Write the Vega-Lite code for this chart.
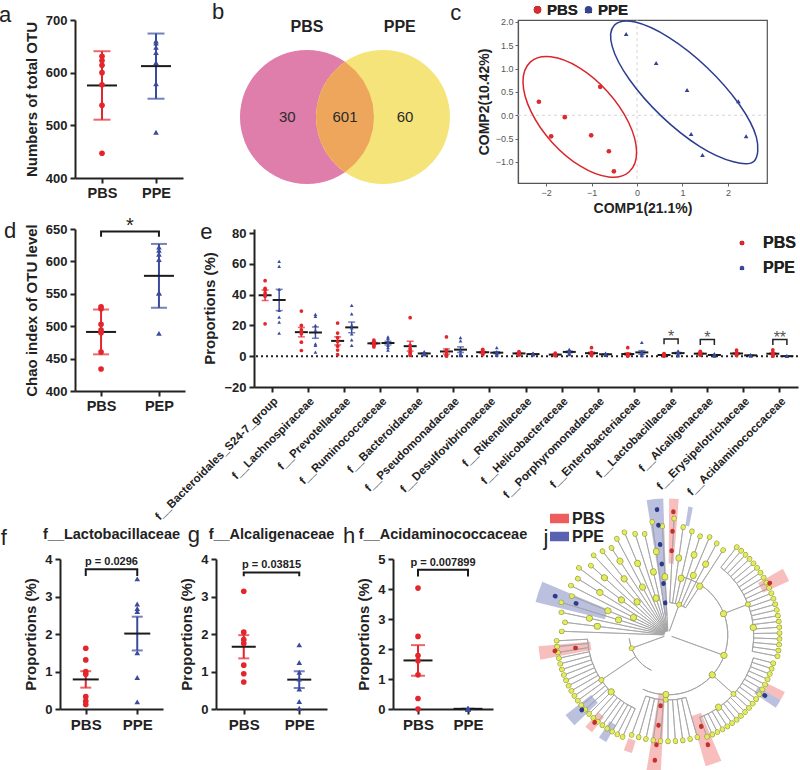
{
"$schema":"https://vega.github.io/schema/vega-lite/v6.json",
"autosize":{"type":"none"},
"padding":{"left":60,"top":20,"right":740,"bottom":750},
"background":"white",
"config":{
 "font":"Liberation Sans",
 "view":{"stroke":null},
 "axis":{"grid":false,"labelOverlap":false,"domainColor":"#222","domainWidth":2,"tickColor":"#222","tickWidth":2,"tickSize":5,"labelFont":"Liberation Sans","labelFontWeight":"bold","labelFontSize":13,"labelColor":"#222","titleFont":"Liberation Sans","titleFontWeight":"bold","titleFontSize":15,"titleColor":"#222","labelPadding":3},
 "legend":{"labelFont":"Liberation Sans","labelFontWeight":"bold","labelColor":"#222","titleFont":"Liberation Sans"},
 "text":{"font":"Liberation Sans"}
},
"datasets":{
 "otu":[{"g":"PBS","v":631},{"g":"PBS","v":623},{"g":"PBS","v":614},{"g":"PBS","v":600},{"g":"PBS","v":577},{"g":"PBS","v":538},{"g":"PBS","v":447},{"g":"PPE","v":660},{"g":"PPE","v":656},{"g":"PPE","v":648},{"g":"PPE","v":638},{"g":"PPE","v":619},{"g":"PPE","v":579},{"g":"PPE","v":487}],
 "chao":[{"g":"PBS","v":530},{"g":"PBS","v":527},{"g":"PBS","v":503},{"g":"PBS","v":494},{"g":"PBS","v":490},{"g":"PBS","v":460},{"g":"PBS","v":434},{"g":"PPE","v":622},{"g":"PPE","v":617},{"g":"PPE","v":611},{"g":"PPE","v":603},{"g":"PPE","v":551},{"g":"PPE","v":551},{"g":"PPE","v":489}],
 "pca":[{"g":"PBS","x":-2.16,"y":0.29},{"g":"PBS","x":-0.81,"y":0.61},{"g":"PBS","x":-1.59,"y":-0.04},{"g":"PBS","x":-1.89,"y":-0.45},{"g":"PBS","x":-1.01,"y":-0.43},{"g":"PBS","x":-0.62,"y":-0.77},{"g":"PBS","x":-0.51,"y":-1.2},{"g":"PPE","x":-0.24,"y":1.74},{"g":"PPE","x":0.42,"y":1.12},{"g":"PPE","x":1.1,"y":0.54},{"g":"PPE","x":2.23,"y":0.3},{"g":"PPE","x":1.19,"y":-0.4},{"g":"PPE","x":2.4,"y":-0.45},{"g":"PPE","x":1.44,"y":-0.85}],
 "ell":[{"g":"PBS","i":0,"x":-0.171,"y":-1.209},{"g":"PBS","i":1,"x":-0.01,"y":-0.781},{"g":"PBS","i":2,"x":-0.185,"y":-0.154},{"g":"PBS","i":3,"x":-0.648,"y":0.505},{"g":"PBS","i":4,"x":-1.275,"y":1.02},{"g":"PBS","i":5,"x":-1.897,"y":1.251},{"g":"PBS","i":6,"x":-2.349,"y":1.138},{"g":"PBS","i":7,"x":-2.51,"y":0.71},{"g":"PBS","i":8,"x":-2.335,"y":0.083},{"g":"PBS","i":9,"x":-1.873,"y":-0.576},{"g":"PBS","i":10,"x":-1.245,"y":-1.091},{"g":"PBS","i":11,"x":-0.623,"y":-1.323},
  {"g":"PPE","i":0,"x":2.581,"y":-0.977},{"g":"PPE","i":1,"x":2.627,"y":-0.474},{"g":"PPE","i":2,"x":2.248,"y":0.235},{"g":"PPE","i":3,"x":1.545,"y":1.018},{"g":"PPE","i":4,"x":0.707,"y":1.662},{"g":"PPE","i":5,"x":-0.041,"y":1.995},{"g":"PPE","i":6,"x":-0.5,"y":1.927},{"g":"PPE","i":7,"x":-0.547,"y":1.476},{"g":"PPE","i":8,"x":-0.168,"y":0.765},{"g":"PPE","i":9,"x":0.535,"y":-0.018},{"g":"PPE","i":10,"x":1.374,"y":-0.664},{"g":"PPE","i":11,"x":2.122,"y":-0.995}],
 "venn":[{"s":"PBS","x":-0.5,"y":0},{"s":"PPE","x":0.5,"y":0},{"s":"both","x":0,"y":0}],
 "venntext":[{"x":-0.5,"y":1.18,"t":"PBS","k":"head"},{"x":0.72,"y":1.18,"t":"PPE","k":"head"},{"x":-0.76,"y":0,"t":"30","k":"n"},{"x":0,"y":0,"t":"601","k":"n"},{"x":0.79,"y":0,"t":"60","k":"n"},{"x":-1.75,"y":1.29,"t":"b","k":"letter"}],
 "fam":[
  {"f":"f__Bacteroidales_S24-7_group","g":"PBS","v":49},{"f":"f__Bacteroidales_S24-7_group","g":"PBS","v":44},{"f":"f__Bacteroidales_S24-7_group","g":"PBS","v":43},{"f":"f__Bacteroidales_S24-7_group","g":"PBS","v":41},{"f":"f__Bacteroidales_S24-7_group","g":"PBS","v":40},{"f":"f__Bacteroidales_S24-7_group","g":"PBS","v":39},{"f":"f__Bacteroidales_S24-7_group","g":"PBS","v":21},
  {"f":"f__Bacteroidales_S24-7_group","g":"PPE","v":61.6},{"f":"f__Bacteroidales_S24-7_group","g":"PPE","v":58.4},{"f":"f__Bacteroidales_S24-7_group","g":"PPE","v":43.4},{"f":"f__Bacteroidales_S24-7_group","g":"PPE","v":29.7},{"f":"f__Bacteroidales_S24-7_group","g":"PPE","v":25.4},{"f":"f__Bacteroidales_S24-7_group","g":"PPE","v":22.1},{"f":"f__Bacteroidales_S24-7_group","g":"PPE","v":15},
  {"f":"f__Lachnospiraceae","g":"PBS","v":29.3},{"f":"f__Lachnospiraceae","g":"PBS","v":20},{"f":"f__Lachnospiraceae","g":"PBS","v":17.1},{"f":"f__Lachnospiraceae","g":"PBS","v":15.6},{"f":"f__Lachnospiraceae","g":"PBS","v":14.5},{"f":"f__Lachnospiraceae","g":"PBS","v":9.1},{"f":"f__Lachnospiraceae","g":"PBS","v":3.7},
  {"f":"f__Lachnospiraceae","g":"PPE","v":27.1},{"f":"f__Lachnospiraceae","g":"PPE","v":25.8},{"f":"f__Lachnospiraceae","g":"PPE","v":20},{"f":"f__Lachnospiraceae","g":"PPE","v":16.7},{"f":"f__Lachnospiraceae","g":"PPE","v":8},{"f":"f__Lachnospiraceae","g":"PPE","v":7},{"f":"f__Lachnospiraceae","g":"PPE","v":2.6},
  {"f":"f__Prevotellaceae","g":"PBS","v":21.5},{"f":"f__Prevotellaceae","g":"PBS","v":15},{"f":"f__Prevotellaceae","g":"PBS","v":12},{"f":"f__Prevotellaceae","g":"PBS","v":9.5},{"f":"f__Prevotellaceae","g":"PBS","v":6.5},{"f":"f__Prevotellaceae","g":"PBS","v":4},{"f":"f__Prevotellaceae","g":"PBS","v":1},
  {"f":"f__Prevotellaceae","g":"PPE","v":33},{"f":"f__Prevotellaceae","g":"PPE","v":27.5},{"f":"f__Prevotellaceae","g":"PPE","v":20},{"f":"f__Prevotellaceae","g":"PPE","v":18.4},{"f":"f__Prevotellaceae","g":"PPE","v":14.5},{"f":"f__Prevotellaceae","g":"PPE","v":10.6},{"f":"f__Prevotellaceae","g":"PPE","v":7},
  {"f":"f__Ruminococcaceae","g":"PBS","v":10.5},{"f":"f__Ruminococcaceae","g":"PBS","v":9.5},{"f":"f__Ruminococcaceae","g":"PBS","v":9},{"f":"f__Ruminococcaceae","g":"PBS","v":8.5},{"f":"f__Ruminococcaceae","g":"PBS","v":8},{"f":"f__Ruminococcaceae","g":"PBS","v":7},{"f":"f__Ruminococcaceae","g":"PBS","v":6},
  {"f":"f__Ruminococcaceae","g":"PPE","v":12.5},{"f":"f__Ruminococcaceae","g":"PPE","v":11.5},{"f":"f__Ruminococcaceae","g":"PPE","v":10},{"f":"f__Ruminococcaceae","g":"PPE","v":9},{"f":"f__Ruminococcaceae","g":"PPE","v":7},{"f":"f__Ruminococcaceae","g":"PPE","v":5.5},{"f":"f__Ruminococcaceae","g":"PPE","v":4},
  {"f":"f__Bacteroidaceae","g":"PBS","v":25},{"f":"f__Bacteroidaceae","g":"PBS","v":7},{"f":"f__Bacteroidaceae","g":"PBS","v":5},{"f":"f__Bacteroidaceae","g":"PBS","v":4},{"f":"f__Bacteroidaceae","g":"PBS","v":2.5},{"f":"f__Bacteroidaceae","g":"PBS","v":1.5},{"f":"f__Bacteroidaceae","g":"PBS","v":0.5},
  {"f":"f__Bacteroidaceae","g":"PPE","v":3},{"f":"f__Bacteroidaceae","g":"PPE","v":2.5},{"f":"f__Bacteroidaceae","g":"PPE","v":2},{"f":"f__Bacteroidaceae","g":"PPE","v":1.5},{"f":"f__Bacteroidaceae","g":"PPE","v":1.5},{"f":"f__Bacteroidaceae","g":"PPE","v":1},{"f":"f__Bacteroidaceae","g":"PPE","v":1},
  {"f":"f__Pseudomonadaceae","g":"PBS","v":12.5},{"f":"f__Pseudomonadaceae","g":"PBS","v":4},{"f":"f__Pseudomonadaceae","g":"PBS","v":3},{"f":"f__Pseudomonadaceae","g":"PBS","v":1},{"f":"f__Pseudomonadaceae","g":"PBS","v":0.5},{"f":"f__Pseudomonadaceae","g":"PBS","v":0.3},{"f":"f__Pseudomonadaceae","g":"PBS","v":0.2},
  {"f":"f__Pseudomonadaceae","g":"PPE","v":12},{"f":"f__Pseudomonadaceae","g":"PPE","v":10},{"f":"f__Pseudomonadaceae","g":"PPE","v":4},{"f":"f__Pseudomonadaceae","g":"PPE","v":2},{"f":"f__Pseudomonadaceae","g":"PPE","v":1},{"f":"f__Pseudomonadaceae","g":"PPE","v":0.5},{"f":"f__Pseudomonadaceae","g":"PPE","v":0.3},
  {"f":"f__Desulfovibrionaceae","g":"PBS","v":4.5},{"f":"f__Desulfovibrionaceae","g":"PBS","v":3.5},{"f":"f__Desulfovibrionaceae","g":"PBS","v":3},{"f":"f__Desulfovibrionaceae","g":"PBS","v":2.5},{"f":"f__Desulfovibrionaceae","g":"PBS","v":2},{"f":"f__Desulfovibrionaceae","g":"PBS","v":1.5},{"f":"f__Desulfovibrionaceae","g":"PBS","v":1},
  {"f":"f__Desulfovibrionaceae","g":"PPE","v":5.5},{"f":"f__Desulfovibrionaceae","g":"PPE","v":3},{"f":"f__Desulfovibrionaceae","g":"PPE","v":2.5},{"f":"f__Desulfovibrionaceae","g":"PPE","v":2},{"f":"f__Desulfovibrionaceae","g":"PPE","v":1.5},{"f":"f__Desulfovibrionaceae","g":"PPE","v":1},{"f":"f__Desulfovibrionaceae","g":"PPE","v":0.5},
  {"f":"f__Rikenellaceae","g":"PBS","v":3},{"f":"f__Rikenellaceae","g":"PBS","v":2.5},{"f":"f__Rikenellaceae","g":"PBS","v":2},{"f":"f__Rikenellaceae","g":"PBS","v":1.8},{"f":"f__Rikenellaceae","g":"PBS","v":1.5},{"f":"f__Rikenellaceae","g":"PBS","v":1},{"f":"f__Rikenellaceae","g":"PBS","v":0.8},
  {"f":"f__Rikenellaceae","g":"PPE","v":2},{"f":"f__Rikenellaceae","g":"PPE","v":1.8},{"f":"f__Rikenellaceae","g":"PPE","v":1.5},{"f":"f__Rikenellaceae","g":"PPE","v":1.3},{"f":"f__Rikenellaceae","g":"PPE","v":1.2},{"f":"f__Rikenellaceae","g":"PPE","v":1},{"f":"f__Rikenellaceae","g":"PPE","v":0.8},
  {"f":"f__Helicobacteraceae","g":"PBS","v":2},{"f":"f__Helicobacteraceae","g":"PBS","v":1.5},{"f":"f__Helicobacteraceae","g":"PBS","v":1.2},{"f":"f__Helicobacteraceae","g":"PBS","v":1},{"f":"f__Helicobacteraceae","g":"PBS","v":0.8},{"f":"f__Helicobacteraceae","g":"PBS","v":0.5},{"f":"f__Helicobacteraceae","g":"PBS","v":0.3},
  {"f":"f__Helicobacteraceae","g":"PPE","v":4.5},{"f":"f__Helicobacteraceae","g":"PPE","v":4},{"f":"f__Helicobacteraceae","g":"PPE","v":3.5},{"f":"f__Helicobacteraceae","g":"PPE","v":3},{"f":"f__Helicobacteraceae","g":"PPE","v":2},{"f":"f__Helicobacteraceae","g":"PPE","v":1.5},{"f":"f__Helicobacteraceae","g":"PPE","v":1},
  {"f":"f__Porphyromonadaceae","g":"PBS","v":5.5},{"f":"f__Porphyromonadaceae","g":"PBS","v":2.5},{"f":"f__Porphyromonadaceae","g":"PBS","v":2},{"f":"f__Porphyromonadaceae","g":"PBS","v":1.5},{"f":"f__Porphyromonadaceae","g":"PBS","v":1},{"f":"f__Porphyromonadaceae","g":"PBS","v":0.8},{"f":"f__Porphyromonadaceae","g":"PBS","v":0.5},
  {"f":"f__Porphyromonadaceae","g":"PPE","v":2},{"f":"f__Porphyromonadaceae","g":"PPE","v":1.8},{"f":"f__Porphyromonadaceae","g":"PPE","v":1.5},{"f":"f__Porphyromonadaceae","g":"PPE","v":1.2},{"f":"f__Porphyromonadaceae","g":"PPE","v":1},{"f":"f__Porphyromonadaceae","g":"PPE","v":0.8},{"f":"f__Porphyromonadaceae","g":"PPE","v":0.5},
  {"f":"f__Enterobacteriaceae","g":"PBS","v":5.5},{"f":"f__Enterobacteriaceae","g":"PBS","v":1.5},{"f":"f__Enterobacteriaceae","g":"PBS","v":1},{"f":"f__Enterobacteriaceae","g":"PBS","v":0.8},{"f":"f__Enterobacteriaceae","g":"PBS","v":0.5},{"f":"f__Enterobacteriaceae","g":"PBS","v":0.3},{"f":"f__Enterobacteriaceae","g":"PBS","v":0.2},
  {"f":"f__Enterobacteriaceae","g":"PPE","v":9},{"f":"f__Enterobacteriaceae","g":"PPE","v":3},{"f":"f__Enterobacteriaceae","g":"PPE","v":2},{"f":"f__Enterobacteriaceae","g":"PPE","v":1.5},{"f":"f__Enterobacteriaceae","g":"PPE","v":1},{"f":"f__Enterobacteriaceae","g":"PPE","v":0.5},{"f":"f__Enterobacteriaceae","g":"PPE","v":0.3},
  {"f":"f__Lactobacillaceae","g":"PBS","v":1.62},{"f":"f__Lactobacillaceae","g":"PBS","v":1.31},{"f":"f__Lactobacillaceae","g":"PBS","v":1.0},{"f":"f__Lactobacillaceae","g":"PBS","v":0.93},{"f":"f__Lactobacillaceae","g":"PBS","v":0.33},{"f":"f__Lactobacillaceae","g":"PBS","v":0.21},{"f":"f__Lactobacillaceae","g":"PBS","v":0.12},
  {"f":"f__Lactobacillaceae","g":"PPE","v":3.47},{"f":"f__Lactobacillaceae","g":"PPE","v":2.8},{"f":"f__Lactobacillaceae","g":"PPE","v":2.68},{"f":"f__Lactobacillaceae","g":"PPE","v":2.6},{"f":"f__Lactobacillaceae","g":"PPE","v":1.5},{"f":"f__Lactobacillaceae","g":"PPE","v":0.84},{"f":"f__Lactobacillaceae","g":"PPE","v":0.19},
  {"f":"f__Alcaligenaceae","g":"PBS","v":3.14},{"f":"f__Alcaligenaceae","g":"PBS","v":2.05},{"f":"f__Alcaligenaceae","g":"PBS","v":1.85},{"f":"f__Alcaligenaceae","g":"PBS","v":1.75},{"f":"f__Alcaligenaceae","g":"PBS","v":1.17},{"f":"f__Alcaligenaceae","g":"PBS","v":0.94},{"f":"f__Alcaligenaceae","g":"PBS","v":0.72},
  {"f":"f__Alcaligenaceae","g":"PPE","v":1.71},{"f":"f__Alcaligenaceae","g":"PPE","v":1.24},{"f":"f__Alcaligenaceae","g":"PPE","v":0.98},{"f":"f__Alcaligenaceae","g":"PPE","v":0.8},{"f":"f__Alcaligenaceae","g":"PPE","v":0.53},{"f":"f__Alcaligenaceae","g":"PPE","v":0.2},{"f":"f__Alcaligenaceae","g":"PPE","v":0.02},
  {"f":"f__Erysipelotrichaceae","g":"PBS","v":4},{"f":"f__Erysipelotrichaceae","g":"PBS","v":2.5},{"f":"f__Erysipelotrichaceae","g":"PBS","v":2},{"f":"f__Erysipelotrichaceae","g":"PBS","v":1.5},{"f":"f__Erysipelotrichaceae","g":"PBS","v":1},{"f":"f__Erysipelotrichaceae","g":"PBS","v":0.8},{"f":"f__Erysipelotrichaceae","g":"PBS","v":0.5},
  {"f":"f__Erysipelotrichaceae","g":"PPE","v":1},{"f":"f__Erysipelotrichaceae","g":"PPE","v":0.8},{"f":"f__Erysipelotrichaceae","g":"PPE","v":0.6},{"f":"f__Erysipelotrichaceae","g":"PPE","v":0.5},{"f":"f__Erysipelotrichaceae","g":"PPE","v":0.4},{"f":"f__Erysipelotrichaceae","g":"PPE","v":0.3},{"f":"f__Erysipelotrichaceae","g":"PPE","v":0.2},
  {"f":"f__Acidaminococcaceae","g":"PBS","v":4.03},{"f":"f__Acidaminococcaceae","g":"PBS","v":2.42},{"f":"f__Acidaminococcaceae","g":"PBS","v":1.78},{"f":"f__Acidaminococcaceae","g":"PBS","v":1.61},{"f":"f__Acidaminococcaceae","g":"PBS","v":1.14},{"f":"f__Acidaminococcaceae","g":"PBS","v":0.35},{"f":"f__Acidaminococcaceae","g":"PBS","v":0},
  {"f":"f__Acidaminococcaceae","g":"PPE","v":0.02},{"f":"f__Acidaminococcaceae","g":"PPE","v":0.01},{"f":"f__Acidaminococcaceae","g":"PPE","v":0.01},{"f":"f__Acidaminococcaceae","g":"PPE","v":0},{"f":"f__Acidaminococcaceae","g":"PPE","v":0},{"f":"f__Acidaminococcaceae","g":"PPE","v":0},{"f":"f__Acidaminococcaceae","g":"PPE","v":0}
 ],
 "spk":[
  {"a":272,"r0":0.03,"r1":0.82},{"a":277,"r0":0.03,"r1":0.8},{"a":282,"r0":0.03,"r1":0.84},{"a":287,"r0":0.03,"r1":0.86},{"a":292,"r0":0.03,"r1":0.8},{"a":297,"r0":0.03,"r1":0.84},{"a":302,"r0":0.03,"r1":0.82},{"a":307,"r0":0.03,"r1":0.86},{"a":312,"r0":0.03,"r1":0.8},{"a":317,"r0":0.03,"r1":0.84},{"a":322,"r0":0.03,"r1":0.82},{"a":327,"r0":0.03,"r1":0.8},{"a":332,"r0":0.03,"r1":0.84},{"a":337,"r0":0.03,"r1":0.86},{"a":342,"r0":0.03,"r1":0.82},{"a":347,"r0":0.03,"r1":0.8},{"a":352,"r0":0.03,"r1":0.88},{"a":357,"r0":0.03,"r1":0.84},
  {"a":3,"r0":0.25,"r1":0.9},{"a":8,"r0":0.25,"r1":0.84},{"a":13,"r0":0.25,"r1":0.82},{"a":18,"r0":0.25,"r1":0.8},{"a":23,"r0":0.25,"r1":0.82},{"a":28,"r0":0.25,"r1":0.8},{"a":33,"r0":0.25,"r1":0.78},
  {"a":38,"r0":0.66,"r1":0.86},{"a":41,"r0":0.66,"r1":0.86},{"a":44,"r0":0.66,"r1":0.86},{"a":47,"r0":0.66,"r1":0.86},{"a":50,"r0":0.66,"r1":0.86},{"a":53,"r0":0.66,"r1":0.86},{"a":56,"r0":0.66,"r1":0.86},{"a":59,"r0":0.66,"r1":0.86},{"a":62,"r0":0.66,"r1":0.86},{"a":65,"r0":0.66,"r1":0.86},{"a":68,"r0":0.66,"r1":0.86},{"a":71,"r0":0.66,"r1":0.86},{"a":74,"r0":0.66,"r1":0.86},{"a":77,"r0":0.66,"r1":0.86},{"a":80,"r0":0.66,"r1":0.86},{"a":83,"r0":0.66,"r1":0.86},{"a":86,"r0":0.66,"r1":0.86},{"a":89,"r0":0.66,"r1":0.86},{"a":92,"r0":0.66,"r1":0.86},{"a":95,"r0":0.66,"r1":0.86},{"a":98,"r0":0.66,"r1":0.86},{"a":101,"r0":0.66,"r1":0.86},
  {"a":105,"r0":0.68,"r1":0.84},{"a":108,"r0":0.68,"r1":0.84},{"a":111,"r0":0.68,"r1":0.84},{"a":114,"r0":0.68,"r1":0.84},{"a":117,"r0":0.68,"r1":0.84},{"a":120,"r0":0.68,"r1":0.84},{"a":123,"r0":0.68,"r1":0.84},{"a":126,"r0":0.68,"r1":0.84},{"a":129,"r0":0.68,"r1":0.84},{"a":132,"r0":0.68,"r1":0.84},{"a":135,"r0":0.68,"r1":0.84},{"a":138,"r0":0.68,"r1":0.84},{"a":141,"r0":0.68,"r1":0.84},{"a":144,"r0":0.68,"r1":0.84},{"a":147,"r0":0.68,"r1":0.84},{"a":150,"r0":0.68,"r1":0.84},{"a":153,"r0":0.68,"r1":0.84},{"a":156,"r0":0.68,"r1":0.84},{"a":159,"r0":0.68,"r1":0.84},
  {"a":164,"r0":0.5,"r1":0.82},{"a":168,"r0":0.5,"r1":0.82},{"a":172,"r0":0.5,"r1":0.82},{"a":176,"r0":0.5,"r1":0.82},{"a":180,"r0":0.5,"r1":0.82},{"a":184,"r0":0.5,"r1":0.82},{"a":188,"r0":0.5,"r1":0.82},{"a":192,"r0":0.5,"r1":0.82},{"a":196,"r0":0.5,"r1":0.82},{"a":200,"r0":0.5,"r1":0.82},
  {"a":204,"r0":0.62,"r1":0.86},{"a":207,"r0":0.62,"r1":0.86},{"a":210,"r0":0.62,"r1":0.86},{"a":213,"r0":0.62,"r1":0.86},{"a":216,"r0":0.62,"r1":0.86},{"a":219,"r0":0.62,"r1":0.86},{"a":222,"r0":0.62,"r1":0.86},{"a":225,"r0":0.62,"r1":0.86},{"a":228,"r0":0.62,"r1":0.86},{"a":231,"r0":0.62,"r1":0.86},{"a":234,"r0":0.62,"r1":0.86},{"a":237,"r0":0.62,"r1":0.86},{"a":240,"r0":0.62,"r1":0.86},{"a":243,"r0":0.62,"r1":0.86},{"a":246,"r0":0.62,"r1":0.86},{"a":249,"r0":0.62,"r1":0.86},{"a":252,"r0":0.62,"r1":0.86},{"a":255,"r0":0.62,"r1":0.86},{"a":258,"r0":0.62,"r1":0.86},{"a":261,"r0":0.62,"r1":0.86},{"a":264,"r0":0.62,"r1":0.86},{"a":267,"r0":0.62,"r1":0.86},
  {"a":69,"r0":0.46,"r1":0.66},{"a":132,"r0":0.46,"r1":0.68},{"a":182,"r0":0.46,"r1":0.5},{"a":236,"r0":0.3,"r1":0.62},{"a":110,"r0":0.03,"r1":0.46},{"a":250,"r0":0.03,"r1":0.3},{"a":20,"r0":0.03,"r1":0.25}
 ],
 "nd":[{"a":277,"r":0.55},{"a":282,"r":0.62},{"a":287,"r":0.4},{"a":292,"r":0.5},{"a":297,"r":0.3},{"a":302,"r":0.62},{"a":307,"r":0.45},{"a":312,"r":0.66},{"a":317,"r":0.35},{"a":322,"r":0.55},{"a":327,"r":0.68},{"a":332,"r":0.42},{"a":337,"r":0.6},{"a":342,"r":0.3},{"a":347,"r":0.5},{"a":352,"r":0.65},{"a":357,"r":0.45},{"a":8,"r":0.6},{"a":13,"r":0.45},{"a":18,"r":0.65},{"a":23,"r":0.5},{"a":28,"r":0.62},{"a":33,"r":0.45},{"a":69,"r":0.46},{"a":110,"r":0.46},{"a":132,"r":0.46},{"a":182,"r":0.46},{"a":85,"r":0.66},{"a":145,"r":0.68},{"a":225,"r":0.62}],
 "cn":[{"a":355,"r":0.25,"g":"PPE"},{"a":355,"r":0.4,"g":"PPE"},{"a":355,"r":0.55,"g":"PPE"},{"a":355,"r":0.7,"g":"PPE"},{"a":355,"r":0.85,"g":"PPE"},{"a":355,"r":0.97,"g":"PPE"},{"a":2.5,"r":0.65,"g":"PBS"},{"a":2.5,"r":0.8,"g":"PBS"},{"a":2.5,"r":0.95,"g":"PBS"},{"a":289,"r":0.75,"g":"PPE"},{"a":289,"r":0.92,"g":"PPE"},{"a":262,"r":0.72,"g":"PBS"},{"a":262,"r":0.88,"g":"PBS"},{"a":229,"r":0.88,"g":"PPE"},{"a":186,"r":0.55,"g":"PBS"},{"a":186,"r":0.7,"g":"PBS"},{"a":186,"r":0.85,"g":"PBS"},{"a":186,"r":0.97,"g":"PBS"},{"a":160,"r":0.75,"g":"PBS"},{"a":160,"r":0.9,"g":"PBS"},{"a":63,"r":0.88,"g":"PBS"},{"a":122,"r":0.88,"g":"PPE"},{"a":220,"r":0.88,"g":"PBS"}],
 "wd":[{"a0":351,"a1":358,"r0":0.15,"r1":1.05,"g":"PPE"},{"a0":0.5,"a1":4.5,"r0":0.55,"r1":1.05,"g":"PBS"},{"a0":9,"a1":11,"r0":0.85,"r1":1.0,"g":"PPE"},{"a0":60,"a1":66,"r0":0.8,"r1":1.02,"g":"PBS"},{"a0":284,"a1":293,"r0":0.5,"r1":1.05,"g":"PPE"},{"a0":259,"a1":265,"r0":0.6,"r1":1.0,"g":"PBS"},{"a0":226,"a1":232,"r0":0.75,"r1":1.0,"g":"PPE"},{"a0":218,"a1":222,"r0":0.8,"r1":0.95,"g":"PBS"},{"a0":210,"a1":214,"r0":0.8,"r1":0.95,"g":"PPE"},{"a0":197,"a1":201,"r0":0.85,"r1":0.95,"g":"PBS"},{"a0":183,"a1":189,"r0":0.45,"r1":1.15,"g":"PBS"},{"a0":157,"a1":164,"r0":0.65,"r1":1.05,"g":"PBS"},{"a0":120,"a1":124,"r0":0.8,"r1":1.0,"g":"PPE"},{"a0":116,"a1":120,"r0":0.85,"r1":1.0,"g":"PBS"}],
 "arcs":[{"a0":15,"a1":205,"r":0.46},{"a0":205,"a1":265,"r":0.3},{"a0":38,"a1":101,"r":0.66},{"a0":105,"a1":159,"r":0.68},{"a0":164,"a1":200,"r":0.5},{"a0":204,"a1":267,"r":0.62},{"a0":3,"a1":33,"r":0.25}]
},
"bounds":"flush","spacing":0,
"resolve":{"scale":{"color":"independent","shape":"independent"},"legend":{"color":"independent","shape":"independent"}},
"vconcat":[
 {"hconcat":[
  {"width":15,"height":1,"data":{"values":[{}]},"mark":{"type":"text","text":""}},
  {"width":108,"height":158,
   "data":{"name":"otu"},
   "layer":[
    {"mark":{"type":"errorbar","extent":"stdev","ticks":{"size":17},"thickness":2},
     "encoding":{"x":{"field":"g","type":"nominal","title":null,"scale":{"type":"point","domain":["PBS","mid","PPE"],"padding":1.42},"axis":{"title":null,"values":["PBS","PPE"],"labelAngle":0,"labelFontSize":14.5}},
      "y":{"field":"v","type":"quantitative","title":"Numbers of total OTU","scale":{"domain":[400,700],"nice":false,"zero":false},"axis":{"values":[400,500,600,700],"tickCount":20,"format":"d","titlePadding":6,"labelOverlap":false}},
      "color":{"field":"g","type":"nominal","scale":{"domain":["PBS","PPE"],"range":["#e3262c","#3a4b9d"]},"legend":null}}},
    {"mark":{"type":"tick","thickness":2,"size":30,"color":"#1a1a1a"},
     "encoding":{"x":{"field":"g","type":"nominal","title":null},"y":{"aggregate":"mean","field":"v","type":"quantitative","title":"Numbers of total OTU"}}},
    {"mark":{"type":"point","filled":true,"size":32,"opacity":1},
     "encoding":{"x":{"field":"g","type":"nominal","title":null},"y":{"field":"v","type":"quantitative","title":"Numbers of total OTU"},
      "color":{"field":"g","type":"nominal","legend":null},
      "shape":{"field":"g","type":"nominal","scale":{"domain":["PBS","PPE"],"range":["circle","triangle-up"]},"legend":null}}},
    {"data":{"values":[{"g":"PBS","y":700,"t":"a"}]},"mark":{"type":"text","fontSize":22,"align":"left","baseline":"alphabetic","dx":-103,"dy":2,"color":"#222"},
     "encoding":{"x":{"field":"g","type":"nominal","title":null},"y":{"field":"y","type":"quantitative","title":"Numbers of total OTU"},"text":{"field":"t"}}}
   ]},
  {"width":14,"height":1,"data":{"values":[{}]},"mark":{"type":"text","text":""}},
  {"width":307,"height":163,
   "layer":[
    {"data":{"name":"venn"},"transform":[{"filter":"datum.s == 'PBS'"}],"mark":{"type":"point","shape":"circle","filled":true,"size":17956,"color":"#df7dab","opacity":1},
     "encoding":{"x":{"field":"x","type":"quantitative","scale":{"domain":[-1.947,2.092],"nice":false,"zero":false},"axis":null},"y":{"field":"y","type":"quantitative","scale":{"domain":[-0.868,1.276],"nice":false,"zero":false},"axis":null}}},
    {"data":{"name":"venn"},"transform":[{"filter":"datum.s == 'PPE'"}],"mark":{"type":"point","shape":"circle","filled":true,"size":17956,"color":"#f5e47a","opacity":1},
     "encoding":{"x":{"field":"x","type":"quantitative"},"y":{"field":"y","type":"quantitative"}}},
    {"data":{"name":"venn"},"transform":[{"filter":"datum.s == 'both'"}],"mark":{"type":"point","shape":"M0,-0.824L0.152,-0.695L0.272,-0.545L0.36,-0.375L0.415,-0.191L0.433,0L0.415,0.191L0.36,0.375L0.272,0.545L0.152,0.695L0,0.824L-0.152,0.695L-0.272,0.545L-0.36,0.375L-0.415,0.191L-0.433,0L-0.415,-0.191L-0.36,-0.375L-0.272,-0.545L-0.152,-0.695Z","filled":true,"size":17956,"color":"#eea65d","opacity":1},
     "encoding":{"x":{"field":"x","type":"quantitative"},"y":{"field":"y","type":"quantitative"}}},
    {"data":{"name":"venntext"},"transform":[{"filter":"datum.k == 'head'"}],"mark":{"type":"text","fontSize":16,"fontWeight":"bold","color":"#222"},
     "encoding":{"x":{"field":"x","type":"quantitative"},"y":{"field":"y","type":"quantitative"},"text":{"field":"t"}}},
    {"data":{"name":"venntext"},"transform":[{"filter":"datum.k == 'n'"}],"mark":{"type":"text","fontSize":15,"color":"#2a2a2a"},
     "encoding":{"x":{"field":"x","type":"quantitative"},"y":{"field":"y","type":"quantitative"},"text":{"field":"t"}}},
    {"data":{"name":"venntext"},"transform":[{"filter":"datum.k == 'letter'"}],"mark":{"type":"text","fontSize":22,"align":"left","baseline":"alphabetic","color":"#222"},
     "encoding":{"x":{"field":"x","type":"quantitative"},"y":{"field":"y","type":"quantitative"},"text":{"field":"t"}}}
   ]},
  {"width":14,"height":1,"data":{"values":[{}]},"mark":{"type":"text","text":""}},
  {"width":249,"height":163,
   "view":{"stroke":"#555","strokeWidth":1.2},
   "resolve":{"scale":{"color":"independent"},"legend":{"color":"independent"}},
   "layer":[
    {"data":{"values":[{"z":0}]},"mark":{"type":"rule","strokeDash":[3,3],"color":"#d5d5d5","strokeWidth":1},
     "encoding":{"x":{"field":"z","type":"quantitative","title":"COMP1(21.1%)","scale":{"domain":[-2.62,2.86],"nice":false,"zero":false},
       "axis":{"values":[-2,-1,0,1,2],"tickCount":20,"format":"d","labelOverlap":false,"labelFontSize":9,"labelFontWeight":"normal","labelColor":"#555","tickColor":"#666","tickSize":3,"tickWidth":1,"domainColor":"#555","domainWidth":1.2,"titleFontSize":14,"labelPadding":2,"titlePadding":4}}}},
    {"data":{"values":[{"z":0}]},"mark":{"type":"rule","strokeDash":[3,3],"color":"#d5d5d5","strokeWidth":1},
     "encoding":{"y":{"field":"z","type":"quantitative","title":"COMP2(10.42%)","scale":{"domain":[-1.45,2.04],"nice":false,"zero":false},
       "axis":{"values":[-1,-0.5,0,0.5,1,1.5,2],"tickCount":20,"format":".1f","labelOverlap":false,"labelFontSize":9,"labelFontWeight":"normal","labelColor":"#555","tickColor":"#666","tickSize":3,"tickWidth":1,"domainColor":"#555","domainWidth":1.2,"titleFontSize":14,"labelPadding":2,"titlePadding":4}}}},
    {"data":{"name":"ell"},"mark":{"type":"line","interpolate":"cardinal-closed","strokeWidth":1.5},
     "encoding":{"x":{"field":"x","type":"quantitative","title":"COMP1(21.1%)"},"y":{"field":"y","type":"quantitative","title":"COMP2(10.42%)"},"order":{"field":"i","type":"quantitative"},
      "color":{"field":"g","type":"nominal","scale":{"domain":["PBS","PPE"],"range":["#d9252b","#2b3d8f"]},"legend":null}}},
    {"data":{"name":"pca"},"mark":{"type":"point","filled":true,"size":22,"opacity":1},
     "encoding":{"x":{"field":"x","type":"quantitative","title":"COMP1(21.1%)"},"y":{"field":"y","type":"quantitative","title":"COMP2(10.42%)"},
      "color":{"field":"g","type":"nominal","scale":{"domain":["PBS","PPE"],"range":["#dc2a2e","#33438f"]},"legend":{"orient":"none","legendX":12,"legendY":-18,"direction":"horizontal","title":null,"labelFontSize":15,"symbolSize":55,"columnPadding":3,"labelOffset":2}},
      "shape":{"field":"g","type":"nominal","scale":{"domain":["PBS","PPE"],"range":["circle","triangle-up"]},"legend":{"orient":"none","legendX":12,"legendY":-18,"direction":"horizontal","title":null,"labelFontSize":15,"symbolSize":55,"columnPadding":3,"labelOffset":2}}}},
    {"data":{"values":[{"x":-4.11,"y":2.04,"t":"c"}]},"mark":{"type":"text","fontSize":22,"align":"left","baseline":"alphabetic","color":"#222"},
     "encoding":{"x":{"field":"x","type":"quantitative","title":"COMP1(21.1%)"},"y":{"field":"y","type":"quantitative","title":"COMP2(10.42%)"},"text":{"field":"t"}}}
   ]}
 ],"spacing":0,"bounds":"flush",
 "resolve":{"scale":{"color":"independent","shape":"independent"},"legend":{"color":"independent","shape":"independent"}}},
 {"width":1,"height":209,"data":{"values":[{}]},"mark":{"type":"text","text":""}},
 {"hconcat":[
  {"width":15,"height":1,"data":{"values":[{}]},"mark":{"type":"text","text":""}},
  {"width":110,"height":162,
   "layer":[
    {"data":{"name":"chao"},"mark":{"type":"errorbar","extent":"stdev","ticks":{"size":16},"thickness":2},
     "encoding":{"x":{"field":"g","type":"nominal","title":null,"scale":{"type":"point","domain":["PBS","mid","PPE"],"padding":0.9},"axis":{"values":["PBS","PPE"],"labelAngle":0,"labelFontSize":14.5,"labelExpr":"datum.value == 'PPE' ? 'PEP' : datum.value"}},
      "y":{"field":"v","type":"quantitative","title":"Chao index of OTU level","scale":{"domain":[400,650],"nice":false,"zero":false},"axis":{"values":[400,450,500,550,600,650],"tickCount":20,"format":"d","titlePadding":6,"labelOverlap":false}},
      "color":{"field":"g","type":"nominal","scale":{"domain":["PBS","PPE"],"range":["#e3262c","#3a4b9d"]},"legend":null}}},
    {"data":{"name":"chao"},"mark":{"type":"tick","thickness":2,"size":30,"color":"#1a1a1a"},
     "encoding":{"x":{"field":"g","type":"nominal","title":null},"y":{"aggregate":"mean","field":"v","type":"quantitative","title":"Chao index of OTU level"}}},
    {"data":{"name":"chao"},"mark":{"type":"point","filled":true,"size":32,"opacity":1},
     "encoding":{"x":{"field":"g","type":"nominal","title":null},"y":{"field":"v","type":"quantitative","title":"Chao index of OTU level"},
      "color":{"field":"g","type":"nominal","legend":null},
      "shape":{"field":"g","type":"nominal","scale":{"domain":["PBS","PPE"],"range":["circle","triangle-up"]},"legend":null}}},
    {"data":{"values":[{"g":"PBS","y":638,"k":1},{"g":"PBS","y":646,"k":2},{"g":"PPE","y":646,"k":3},{"g":"PPE","y":638,"k":4}]},
     "mark":{"type":"line","color":"#1a1a1a","strokeWidth":2},
     "encoding":{"x":{"field":"g","type":"nominal","title":null},"y":{"field":"y","type":"quantitative","title":"Chao index of OTU level"},"order":{"field":"k","type":"quantitative"}}},
    {"data":{"values":[{"g":"mid","y":655,"t":"*"}]},"mark":{"type":"text","fontSize":20,"color":"#222"},
     "encoding":{"x":{"field":"g","type":"nominal","title":null},"y":{"field":"y","type":"quantitative","title":"Chao index of OTU level"},"text":{"field":"t"}}},
    {"data":{"values":[{"g":"PBS","y":650,"t":"d"}]},"mark":{"type":"text","fontSize":22,"align":"left","baseline":"alphabetic","dx":-97,"dy":9,"color":"#222"},
     "encoding":{"x":{"field":"g","type":"nominal","title":null},"y":{"field":"y","type":"quantitative","title":"Chao index of OTU level"},"text":{"field":"t"}}}
   ]},
  {"width":69,"height":1,"data":{"values":[{}]},"mark":{"type":"text","text":""}},
  {"width":544,"height":158,
   "resolve":{"scale":{"color":"independent"},"legend":{"color":"independent"}},
   "layer":[
    {"data":{"values":[{"z":0}]},"mark":{"type":"rule","strokeDash":[2,3],"strokeWidth":2,"color":"#222"},
     "encoding":{"y":{"field":"z","type":"quantitative","title":"Proportions (%)","scale":{"domain":[-20,82.6],"nice":false,"zero":false},"axis":{"values":[-20,0,20,40,60,80],"tickCount":20,"format":"d","titlePadding":6,"labelOverlap":false}}}},
    {"data":{"name":"fam"},"mark":{"type":"errorbar","extent":"stderr","ticks":{"size":7},"thickness":1.5},
     "encoding":{"x":{"field":"f","type":"nominal","title":null,"scale":{"type":"band","paddingInner":0,"paddingOuter":0,"domain":["f__Bacteroidales_S24-7_group","f__Lachnospiraceae","f__Prevotellaceae","f__Ruminococcaceae","f__Bacteroidaceae","f__Pseudomonadaceae","f__Desulfovibrionaceae","f__Rikenellaceae","f__Helicobacteraceae","f__Porphyromonadaceae","f__Enterobacteriaceae","f__Lactobacillaceae","f__Alcaligenaceae","f__Erysipelotrichaceae","f__Acidaminococcaceae"]},"axis":{"labelAngle":-45,"labelFontSize":11.5,"labelPadding":3,"labelLimit":0}},
      "xOffset":{"field":"g","type":"nominal","scale":{"type":"band","domain":["PBS","PPE"],"paddingInner":0,"paddingOuter":0.29}},
      "y":{"field":"v","type":"quantitative","title":"Proportions (%)"},
      "color":{"field":"g","type":"nominal","scale":{"domain":["PBS","PPE"],"range":["#e3262c","#3a4b9d"]},"legend":null}}},
    {"data":{"name":"fam"},"mark":{"type":"tick","thickness":2,"size":13,"color":"#1a1a1a"},
     "encoding":{"x":{"field":"f","type":"nominal","title":null},"xOffset":{"field":"g","type":"nominal"},"y":{"aggregate":"mean","field":"v","type":"quantitative","title":"Proportions (%)"}}},
    {"data":{"name":"fam"},"mark":{"type":"point","filled":true,"size":14,"opacity":1},
     "encoding":{"x":{"field":"f","type":"nominal","title":null},"xOffset":{"field":"g","type":"nominal"},"y":{"field":"v","type":"quantitative","title":"Proportions (%)"},
      "color":{"field":"g","type":"nominal","scale":{"domain":["PBS","PPE"],"range":["#e3262c","#3a4b9d"]},"legend":{"orient":"none","legendX":480,"legendY":6,"title":null,"labelFontSize":16,"symbolSize":22,"rowPadding":9,"labelOffset":13}},
      "shape":{"field":"g","type":"nominal","scale":{"domain":["PBS","PPE"],"range":["circle","triangle-up"]},"legend":{"orient":"none","legendX":480,"legendY":6,"title":null,"labelFontSize":16,"symbolSize":22,"rowPadding":9,"labelOffset":13}}}},
    {"data":{"values":[{"f":"f__Lactobacillaceae","g":"PBS","y":7.8,"k":1},{"f":"f__Lactobacillaceae","g":"PBS","y":11.2,"k":2},{"f":"f__Lactobacillaceae","g":"PPE","y":11.2,"k":3},{"f":"f__Lactobacillaceae","g":"PPE","y":7.8,"k":4},
       {"f":"f__Alcaligenaceae","g":"PBS","y":7.3,"k":1},{"f":"f__Alcaligenaceae","g":"PBS","y":10.8,"k":2},{"f":"f__Alcaligenaceae","g":"PPE","y":10.8,"k":3},{"f":"f__Alcaligenaceae","g":"PPE","y":7.3,"k":4},
       {"f":"f__Acidaminococcaceae","g":"PBS","y":7.3,"k":1},{"f":"f__Acidaminococcaceae","g":"PBS","y":10.8,"k":2},{"f":"f__Acidaminococcaceae","g":"PPE","y":10.8,"k":3},{"f":"f__Acidaminococcaceae","g":"PPE","y":7.3,"k":4}]},
     "mark":{"type":"line","strokeWidth":1.5,"color":"#222"},
     "encoding":{"x":{"field":"f","type":"nominal","title":null},"xOffset":{"field":"g","type":"nominal"},"y":{"field":"y","type":"quantitative","title":"Proportions (%)"},"order":{"field":"k","type":"quantitative"},"detail":{"field":"f"}}},
    {"data":{"values":[{"f":"f__Lactobacillaceae","y":12.3,"t":"*"},{"f":"f__Alcaligenaceae","y":12.1,"t":"*"},{"f":"f__Acidaminococcaceae","y":12.1,"t":"**"}]},
     "mark":{"type":"text","fontSize":16,"color":"#555"},
     "encoding":{"x":{"field":"f","type":"nominal","title":null},"y":{"field":"y","type":"quantitative","title":"Proportions (%)"},"text":{"field":"t"}}},
    {"data":{"values":[{"f":"f__Bacteroidales_S24-7_group","y":80,"t":"e"}]},"mark":{"type":"text","fontSize":22,"align":"left","baseline":"alphabetic","dx":-72,"dy":6,"color":"#222"},
     "encoding":{"x":{"field":"f","type":"nominal","title":null},"y":{"field":"y","type":"quantitative","title":"Proportions (%)"},"text":{"field":"t"}}}
   ]}
 ],"spacing":0,"bounds":"flush",
 "resolve":{"scale":{"color":"independent","shape":"independent"},"legend":{"color":"independent","shape":"independent"}}},
 {"width":1,"height":330,"data":{"values":[{}]},"mark":{"type":"text","text":""}},
 {"hconcat":[
  {"width":103,"height":150,
   "layer":[
    {"data":{"name":"fam"},"transform":[{"filter":"datum.f == 'f__Lactobacillaceae'"}],"mark":{"type":"errorbar","extent":"stderr","ticks":{"size":11},"thickness":2},
     "encoding":{"x":{"field":"g","type":"nominal","title":null,"scale":{"type":"point","domain":["PBS","mid","PPE"],"padding":1.4},"axis":{"values":["PBS","PPE"],"labelAngle":0,"labelFontSize":15}},
      "y":{"field":"v","type":"quantitative","title":"Proportions (%)","scale":{"domain":[0,4],"nice":false},"axis":{"values":[0,1,2,3,4],"tickCount":20,"format":"d","titlePadding":6,"labelOverlap":false}},
      "color":{"field":"g","type":"nominal","scale":{"domain":["PBS","PPE"],"range":["#e3262c","#3a4b9d"]},"legend":null}}},
    {"data":{"name":"fam"},"transform":[{"filter":"datum.f == 'f__Lactobacillaceae'"}],"mark":{"type":"tick","thickness":2,"size":26,"color":"#1a1a1a"},
     "encoding":{"x":{"field":"g","type":"nominal","title":null},"y":{"aggregate":"mean","field":"v","type":"quantitative","title":"Proportions (%)"}}},
    {"data":{"name":"fam"},"transform":[{"filter":"datum.f == 'f__Lactobacillaceae'"}],"mark":{"type":"point","filled":true,"size":32,"opacity":1},
     "encoding":{"x":{"field":"g","type":"nominal","title":null},"y":{"field":"v","type":"quantitative","title":"Proportions (%)"},"color":{"field":"g","type":"nominal","legend":null},
      "shape":{"field":"g","type":"nominal","scale":{"domain":["PBS","PPE"],"range":["circle","triangle-up"]},"legend":null}}},
    {"data":{"values":[{"g":"PBS","y":3.55,"k":1},{"g":"PBS","y":3.73,"k":2},{"g":"PPE","y":3.73,"k":3},{"g":"PPE","y":3.55,"k":4}]},"mark":{"type":"line","color":"#1a1a1a","strokeWidth":2},
     "encoding":{"x":{"field":"g","type":"nominal","title":null},"y":{"field":"y","type":"quantitative","title":"Proportions (%)"},"order":{"field":"k","type":"quantitative"}}},
    {"data":{"values":[{"g":"mid","y":3.91,"t":"p = 0.0296"}]},"mark":{"type":"text","fontSize":11,"fontWeight":"bold","color":"#222"},
     "encoding":{"x":{"field":"g","type":"nominal","title":null},"y":{"field":"y","type":"quantitative","title":"Proportions (%)"},"text":{"field":"t"}}},
    {"data":{"values":[{"g":"mid","y":4,"t":"f__Lactobacillaceae"}]},"mark":{"type":"text","fontSize":14.5,"fontWeight":"bold","color":"#222","dy":-24},
     "encoding":{"x":{"field":"g","type":"nominal","title":null},"y":{"field":"y","type":"quantitative","title":"Proportions (%)"},"text":{"field":"t"}}},
    {"data":{"values":[{"g":"PBS","y":4,"t":"f"}]},"mark":{"type":"text","fontSize":22,"align":"left","baseline":"alphabetic","dx":-85,"dy":-14,"color":"#222"},
     "encoding":{"x":{"field":"g","type":"nominal","title":null},"y":{"field":"y","type":"quantitative","title":"Proportions (%)"},"text":{"field":"t"}}}
   ]},
  {"width":53,"height":1,"data":{"values":[{}]},"mark":{"type":"text","text":""}},
  {"width":111,"height":150,
   "layer":[
    {"data":{"name":"fam"},"transform":[{"filter":"datum.f == 'f__Alcaligenaceae'"}],"mark":{"type":"errorbar","extent":"stderr","ticks":{"size":11},"thickness":2},
     "encoding":{"x":{"field":"g","type":"nominal","title":null,"scale":{"type":"point","domain":["PBS","mid","PPE"],"padding":1.47},"axis":{"values":["PBS","PPE"],"labelAngle":0,"labelFontSize":15}},
      "y":{"field":"v","type":"quantitative","title":"Proportions (%)","scale":{"domain":[0,4],"nice":false},"axis":{"values":[0,1,2,3,4],"tickCount":20,"format":"d","titlePadding":6,"labelOverlap":false}},
      "color":{"field":"g","type":"nominal","scale":{"domain":["PBS","PPE"],"range":["#e3262c","#3a4b9d"]},"legend":null}}},
    {"data":{"name":"fam"},"transform":[{"filter":"datum.f == 'f__Alcaligenaceae'"}],"mark":{"type":"tick","thickness":2,"size":24,"color":"#1a1a1a"},
     "encoding":{"x":{"field":"g","type":"nominal","title":null},"y":{"aggregate":"mean","field":"v","type":"quantitative","title":"Proportions (%)"}}},
    {"data":{"name":"fam"},"transform":[{"filter":"datum.f == 'f__Alcaligenaceae'"}],"mark":{"type":"point","filled":true,"size":32,"opacity":1},
     "encoding":{"x":{"field":"g","type":"nominal","title":null},"y":{"field":"v","type":"quantitative","title":"Proportions (%)"},"color":{"field":"g","type":"nominal","legend":null},
      "shape":{"field":"g","type":"nominal","scale":{"domain":["PBS","PPE"],"range":["circle","triangle-up"]},"legend":null}}},
    {"data":{"values":[{"g":"PBS","y":3.54,"k":1},{"g":"PBS","y":3.64,"k":2},{"g":"PPE","y":3.64,"k":3},{"g":"PPE","y":3.54,"k":4}]},"mark":{"type":"line","color":"#1a1a1a","strokeWidth":2},
     "encoding":{"x":{"field":"g","type":"nominal","title":null},"y":{"field":"y","type":"quantitative","title":"Proportions (%)"},"order":{"field":"k","type":"quantitative"}}},
    {"data":{"values":[{"g":"mid","y":3.85,"t":"p = 0.03815"}]},"mark":{"type":"text","fontSize":11,"fontWeight":"bold","color":"#222"},
     "encoding":{"x":{"field":"g","type":"nominal","title":null},"y":{"field":"y","type":"quantitative","title":"Proportions (%)"},"text":{"field":"t"}}},
    {"data":{"values":[{"g":"mid","y":4,"t":"f__Alcaligenaceae"}]},"mark":{"type":"text","fontSize":14.5,"fontWeight":"bold","color":"#222","dy":-24},
     "encoding":{"x":{"field":"g","type":"nominal","title":null},"y":{"field":"y","type":"quantitative","title":"Proportions (%)"},"text":{"field":"t"}}},
    {"data":{"values":[{"g":"PBS","y":4,"t":"g"}]},"mark":{"type":"text","fontSize":22,"align":"left","baseline":"alphabetic","dx":-56,"dy":-17,"color":"#222"},
     "encoding":{"x":{"field":"g","type":"nominal","title":null},"y":{"field":"y","type":"quantitative","title":"Proportions (%)"},"text":{"field":"t"}}}
   ]},
  {"width":66,"height":1,"data":{"values":[{}]},"mark":{"type":"text","text":""}},
  {"width":100,"height":150,
   "layer":[
    {"data":{"name":"fam"},"transform":[{"filter":"datum.f == 'f__Acidaminococcaceae'"}],"mark":{"type":"errorbar","extent":"stderr","ticks":{"size":14},"thickness":2},
     "encoding":{"x":{"field":"g","type":"nominal","title":null,"scale":{"type":"point","domain":["PBS","mid","PPE"],"padding":1.38},"axis":{"values":["PBS","PPE"],"labelAngle":0,"labelFontSize":15}},
      "y":{"field":"v","type":"quantitative","title":"Proportions (%)","scale":{"domain":[0,5],"nice":false},"axis":{"values":[0,1,2,3,4,5],"tickCount":20,"format":"d","titlePadding":6,"labelOverlap":false}},
      "color":{"field":"g","type":"nominal","scale":{"domain":["PBS","PPE"],"range":["#e3262c","#3a4b9d"]},"legend":null}}},
    {"data":{"name":"fam"},"transform":[{"filter":"datum.f == 'f__Acidaminococcaceae'"}],"mark":{"type":"tick","thickness":2,"size":29,"color":"#1a1a1a"},
     "encoding":{"x":{"field":"g","type":"nominal","title":null},"y":{"aggregate":"mean","field":"v","type":"quantitative","title":"Proportions (%)"}}},
    {"data":{"name":"fam"},"transform":[{"filter":"datum.f == 'f__Acidaminococcaceae'"}],"mark":{"type":"point","filled":true,"size":32,"opacity":1},
     "encoding":{"x":{"field":"g","type":"nominal","title":null},"y":{"field":"v","type":"quantitative","title":"Proportions (%)"},"color":{"field":"g","type":"nominal","legend":null},
      "shape":{"field":"g","type":"nominal","scale":{"domain":["PBS","PPE"],"range":["circle","triangle-up"]},"legend":null}}},
    {"data":{"values":[{"g":"PBS","y":4.42,"k":1},{"g":"PBS","y":4.64,"k":2},{"g":"PPE","y":4.64,"k":3},{"g":"PPE","y":4.42,"k":4}]},"mark":{"type":"line","color":"#1a1a1a","strokeWidth":2},
     "encoding":{"x":{"field":"g","type":"nominal","title":null},"y":{"field":"y","type":"quantitative","title":"Proportions (%)"},"order":{"field":"k","type":"quantitative"}}},
    {"data":{"values":[{"g":"mid","y":4.87,"t":"p = 0.007899"}]},"mark":{"type":"text","fontSize":11,"fontWeight":"bold","color":"#222"},
     "encoding":{"x":{"field":"g","type":"nominal","title":null},"y":{"field":"y","type":"quantitative","title":"Proportions (%)"},"text":{"field":"t"}}},
    {"data":{"values":[{"g":"mid","y":5,"t":"f__Acidaminococcaceae"}]},"mark":{"type":"text","fontSize":14.5,"fontWeight":"bold","color":"#222","dy":-24},
     "encoding":{"x":{"field":"g","type":"nominal","title":null},"y":{"field":"y","type":"quantitative","title":"Proportions (%)"},"text":{"field":"t"}}},
    {"data":{"values":[{"g":"PBS","y":5,"t":"h"}]},"mark":{"type":"text","fontSize":22,"align":"left","baseline":"alphabetic","dx":-75,"dy":-16,"color":"#222"},
     "encoding":{"x":{"field":"g","type":"nominal","title":null},"y":{"field":"y","type":"quantitative","title":"Proportions (%)"},"text":{"field":"t"}}}
   ]},
  {"width":53,"height":1,"data":{"values":[{}]},"mark":{"type":"text","text":""}},
  {"width":244,"height":152,
   "layer":[
    {"data":{"name":"wd"},"mark":{"type":"arc","fillOpacity":0.4},
     "encoding":{"theta":{"field":"a0","type":"quantitative","scale":{"type":"linear","domain":[0,360],"range":[0,6.283185]},"stack":null},"theta2":{"field":"a1"},
      "radius":{"field":"r1","type":"quantitative","scale":{"type":"linear","domain":[0,1],"range":[0,130],"zero":true}},"radius2":{"field":"r0"},
      "color":{"field":"g","type":"nominal","scale":{"domain":["PBS","PPE"],"range":["#ee5d5d","#5862b0"]},
       "legend":{"orient":"none","legendX":4,"legendY":-50,"title":null,"symbolType":"M-1,-0.5H1V0.5H-1Z","symbolSize":361,"symbolOpacity":1,"symbolStrokeWidth":0,"labelFontSize":16,"labelColor":"#222","rowPadding":-5,"labelOffset":3}}}},
    {"data":{"name":"arcs"},"mark":{"type":"arc","filled":false,"stroke":"#a3a3a3","strokeWidth":0.9},
     "encoding":{"theta":{"field":"a0","type":"quantitative","stack":null},"theta2":{"field":"a1"},"radius":{"field":"r","type":"quantitative"},"radius2":{"field":"r"}}},
    {"data":{"name":"spk"},"mark":{"type":"arc","filled":false,"stroke":"#a3a3a3","strokeWidth":0.8},
     "encoding":{"theta":{"field":"a","type":"quantitative","stack":null},"theta2":{"field":"a"},"radius":{"field":"r1","type":"quantitative"},"radius2":{"field":"r0"}}},
    {"data":{"name":"spk"},"mark":{"type":"arc","filled":false,"stroke":"#9aa33a","strokeWidth":5.2,"strokeCap":"round","strokeDash":[0.5,3000]},
     "encoding":{"theta":{"field":"a","type":"quantitative","stack":null},"theta2":{"field":"a"},"radius":{"field":"r1","type":"quantitative"},"radius2":{"field":"r0"}}},
    {"data":{"name":"spk"},"mark":{"type":"arc","filled":false,"stroke":"#e3ec5e","strokeWidth":4,"strokeCap":"round","strokeDash":[0.5,3000]},
     "encoding":{"theta":{"field":"a","type":"quantitative","stack":null},"theta2":{"field":"a"},"radius":{"field":"r1","type":"quantitative"},"radius2":{"field":"r0"}}},
    {"data":{"name":"nd"},"mark":{"type":"arc","filled":false,"stroke":"#9aa33a","strokeWidth":6.5,"strokeCap":"round","strokeDash":[0.5,3000]},
     "encoding":{"theta":{"field":"a","type":"quantitative","stack":null},"theta2":{"field":"a"},"radius":{"field":"r","type":"quantitative"},"radius2":{"value":0}}},
    {"data":{"name":"nd"},"mark":{"type":"arc","filled":false,"stroke":"#e3ec5e","strokeWidth":5,"strokeCap":"round","strokeDash":[0.5,3000]},
     "encoding":{"theta":{"field":"a","type":"quantitative","stack":null},"theta2":{"field":"a"},"radius":{"field":"r","type":"quantitative"},"radius2":{"value":0}}},
    {"data":{"name":"cn"},"transform":[{"filter":"datum.g == 'PBS'"}],"mark":{"type":"arc","filled":false,"stroke":"#c4302b","strokeWidth":4.5,"strokeCap":"round","strokeDash":[0.5,3000]},
     "encoding":{"theta":{"field":"a","type":"quantitative","stack":null},"theta2":{"field":"a"},"radius":{"field":"r","type":"quantitative"},"radius2":{"value":0}}},
    {"data":{"name":"cn"},"transform":[{"filter":"datum.g == 'PPE'"}],"mark":{"type":"arc","filled":false,"stroke":"#2e3a87","strokeWidth":4.5,"strokeCap":"round","strokeDash":[0.5,3000]},
     "encoding":{"theta":{"field":"a","type":"quantitative","stack":null},"theta2":{"field":"a"},"radius":{"field":"r","type":"quantitative"},"radius2":{"value":0}}},
    {"data":{"values":[{"a":306.4,"r":1.166,"t":"j"}]},"mark":{"type":"text","fontSize":22,"align":"center","baseline":"alphabetic","color":"#222"},
     "encoding":{"theta":{"field":"a","type":"quantitative","stack":null},"radius":{"field":"r","type":"quantitative"},"text":{"field":"t"}}}
   ]}
 ],"spacing":0,"bounds":"flush",
 "resolve":{"scale":{"color":"independent","shape":"independent"},"legend":{"color":"independent","shape":"independent"}}}
]
}
